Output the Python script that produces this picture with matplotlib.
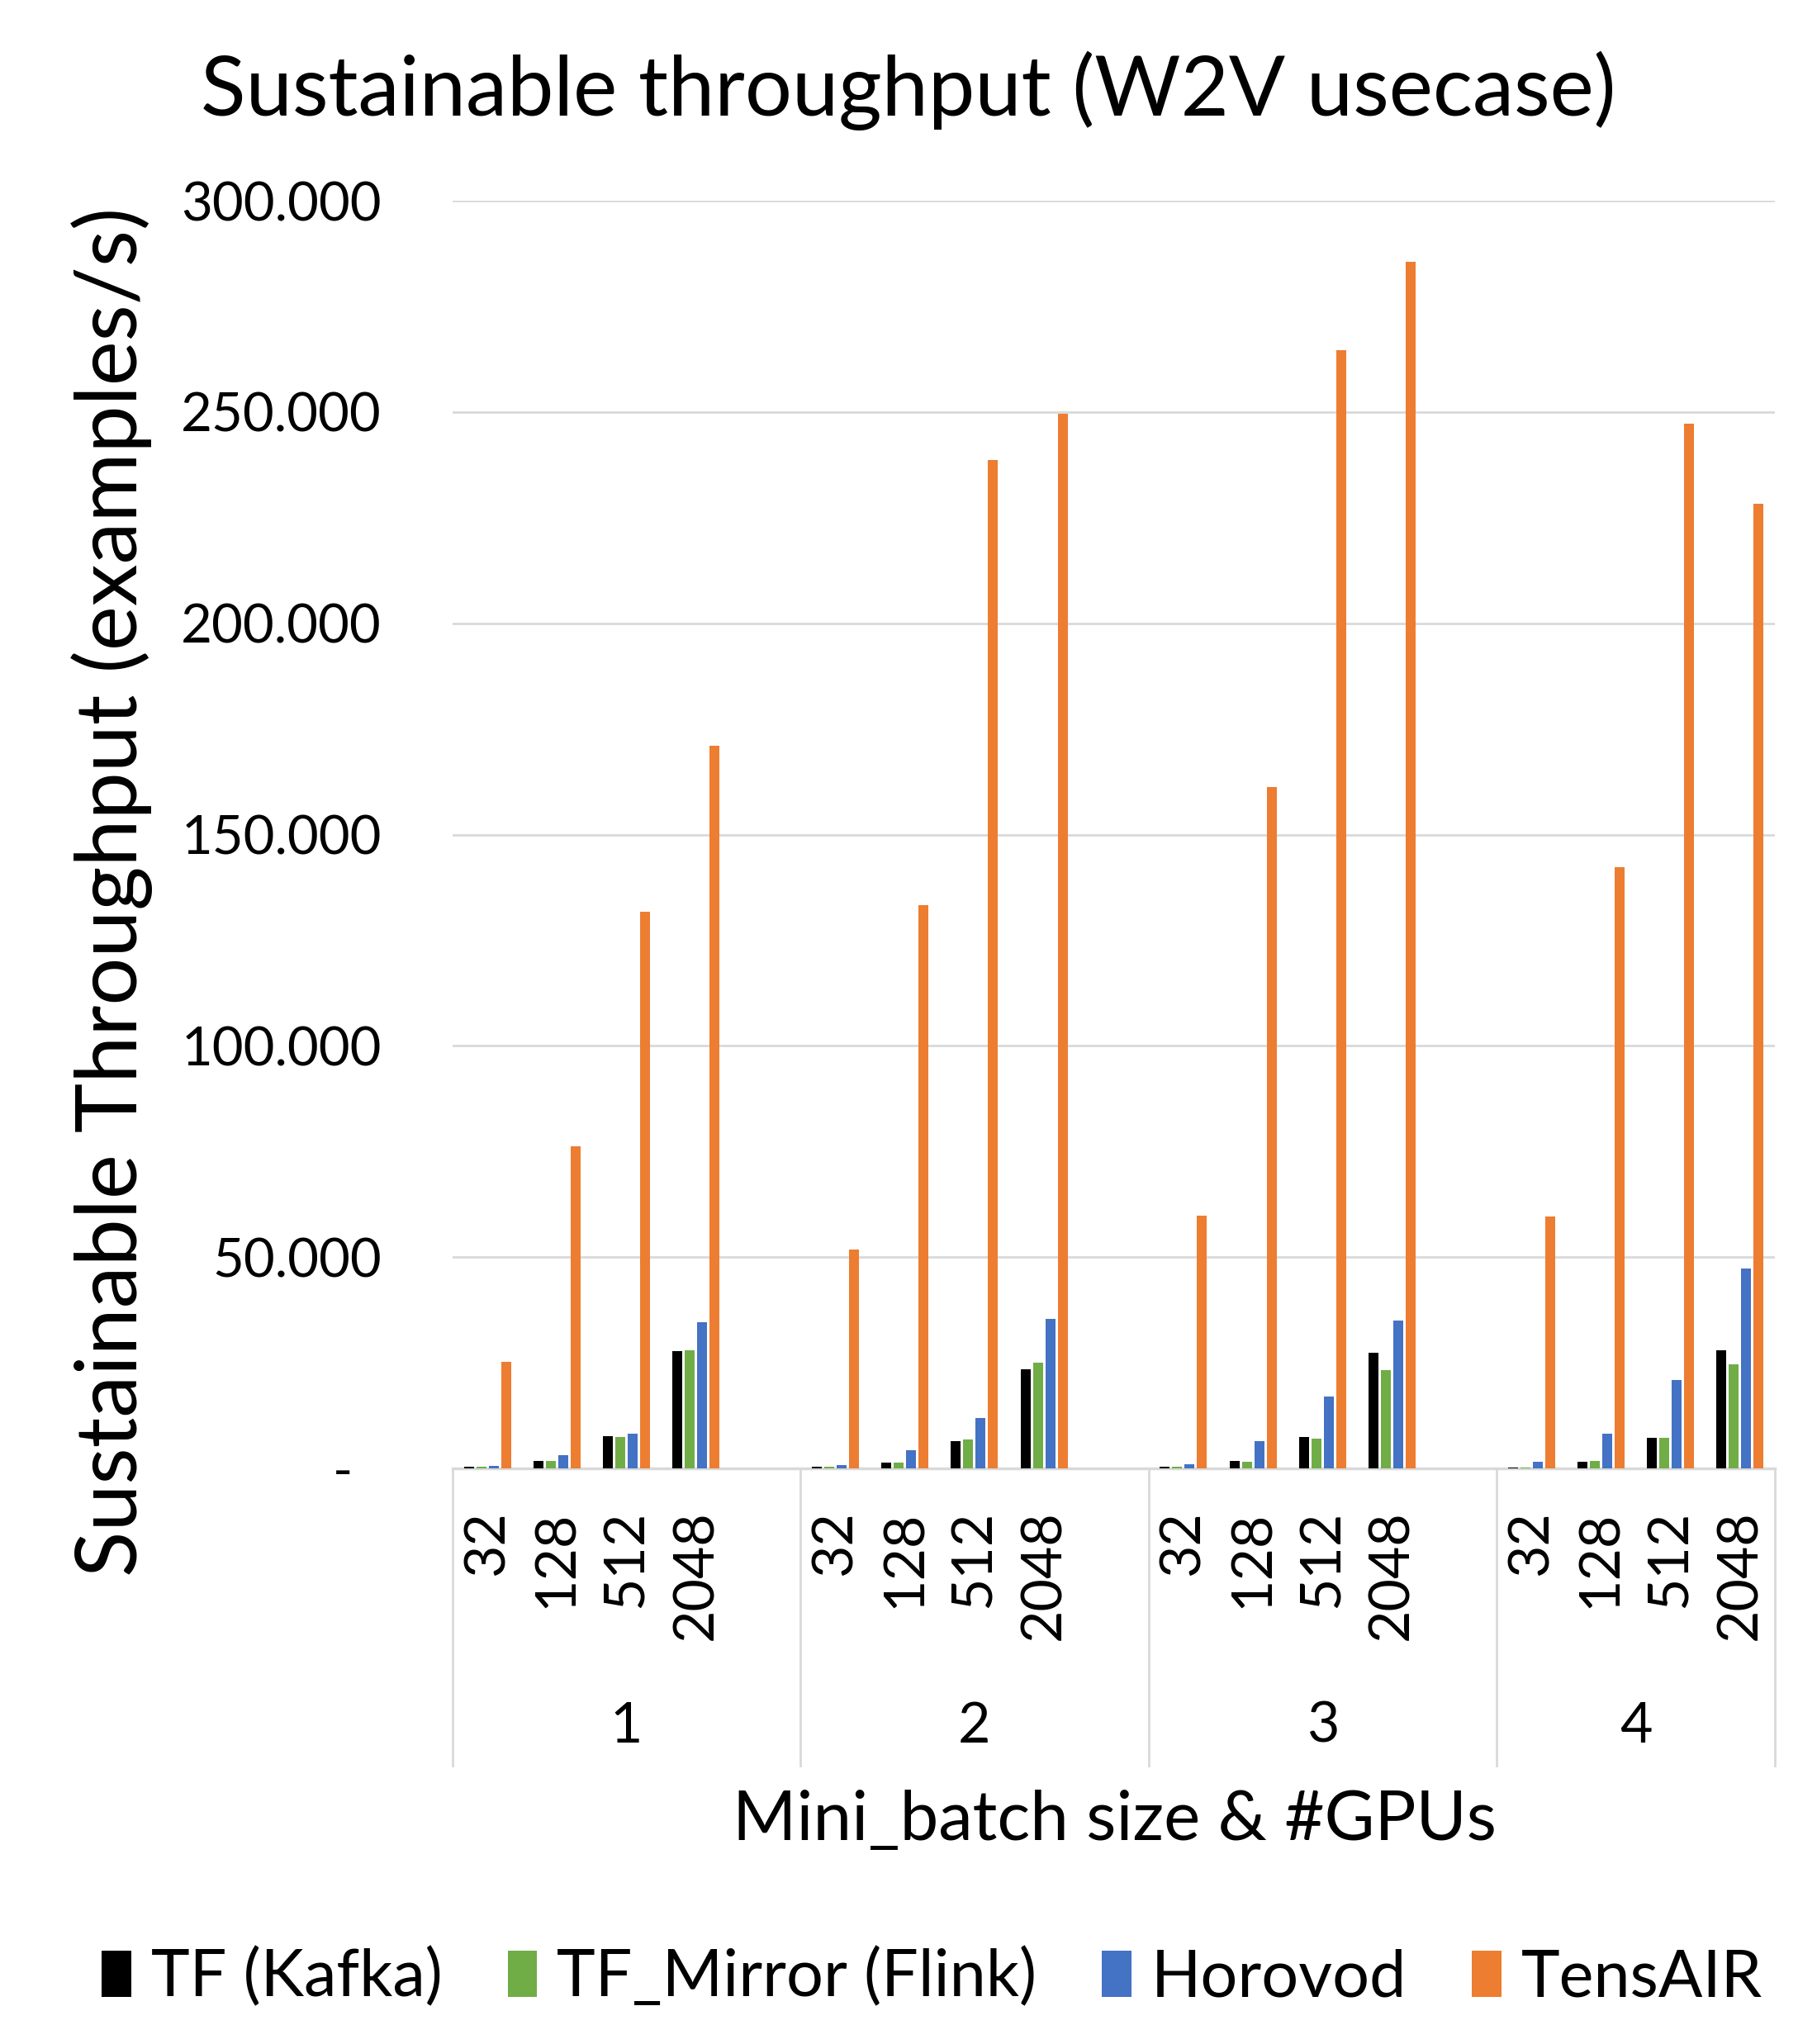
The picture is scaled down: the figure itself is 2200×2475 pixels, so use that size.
import matplotlib
matplotlib.use("Agg")
import matplotlib.pyplot as plt
from matplotlib.transforms import ScaledTranslation

plt.rcParams['font.family'] = ['Lato', 'DejaVu Sans']

# ---- data ----
gpus = ["1", "2", "3", "4"]
batch_sizes = ["32", "128", "512", "2048"]
series_names = ["TF (Kafka)", "TF_Mirror (Flink)", "Horovod", "TensAIR"]
series_colors = ["#000000", "#70AD47", "#4472C4", "#ED7D31"]

tf_kafka = [300, 1800, 7600, 27700,
            300, 1400, 6500, 23400,
            300, 1800, 7400, 27300,
            200, 1500, 7200, 27900]
tf_mirror = [300, 1800, 7400, 27900,
             300, 1400, 6900, 25000,
             300, 1600, 7000, 23200,
             200, 1700, 7200, 24600]
horovod = [500, 3100, 8200, 34600,
           700, 4300, 11900, 35400,
           1000, 6500, 17000, 35000,
           1500, 8200, 20900, 47300]
tensair = [25300, 76200, 131700, 171100,
           51800, 133200, 238700, 249500,
           59800, 161300, 264600, 285500,
           59700, 142200, 247300, 228200]

ytick_values = [0, 50000, 100000, 150000, 200000, 250000, 300000]
ytick_labels = ["-", "50.000", "100.000", "150.000", "200.000", "250.000", "300.000"]

title = "Sustainable throughput (W2V usecase)"
ylabel = "Sustainable Throughput (examples/s)"
xlabel = "Mini_batch size & #GPUs"

# ---- layout ----
W, H = 2200, 2475
fig = plt.figure(figsize=(W / 100, H / 100), dpi=100)
ax = fig.add_axes([548 / W, 1 - 1778 / H, (2149 - 548) / W, (1778 - 243) / H])

# slots: groups 1-3 have 5 slots (last one empty), group 4 has 4 slots
slots_per_group = [5, 5, 5, 4]
group_starts = []
s = 0
for n in slots_per_group:
    group_starts.append(s)
    s += n
n_slots = s

positions = []
for g in range(len(gpus)):
    for c in range(len(batch_sizes)):
        positions.append(group_starts[g] + c)

all_series = [tf_kafka, tf_mirror, horovod, tensair]
pitch = 0.178
bw = 0.142
for i, (vals, name, col) in enumerate(zip(all_series, series_names, series_colors)):
    xs = [p + (i - 1.5) * pitch for p in positions]
    ax.bar(xs, vals, width=bw, color=col, label=name, zorder=3)

ax.set_xlim(-0.5, n_slots - 0.5)
ax.set_ylim(0, 300000)
ax.set_yticks(ytick_values)
ax.set_yticklabels(ytick_labels, fontsize=47)
ax.tick_params(axis='y', length=0, pad=62)
ax.tick_params(axis='x', length=0)
ax.set_xticks([])
ax.grid(axis='y', color='#D9D9D9', linewidth=2, zorder=0)
for sp in ["left", "right", "top"]:
    ax.spines[sp].set_visible(False)
ax.spines["bottom"].set_color("#D9D9D9")
ax.spines["bottom"].set_linewidth(2.5)

# shift the "-" zero label left like Excel's accounting format
zero_lab = ax.get_yticklabels()[0]
zero_lab.set_transform(zero_lab.get_transform() + ScaledTranslation(-0.35, 0, fig.dpi_scale_trans))

trans = ax.get_xaxis_transform()
# sub-category labels
for p, lab in zip(positions, batch_sizes * len(gpus)):
    ax.text(p, -0.033, lab, rotation=90, ha='center', va='top', fontsize=49,
            transform=trans)
# group separators and labels
sep_bottom = -(2138 - 1778) / (1778 - 243)
bounds = [gs - 0.5 for gs in group_starts] + [n_slots - 0.5]
for b in bounds:
    ax.plot([b, b], [0, sep_bottom], color='#D9D9D9', linewidth=2,
            transform=trans, clip_on=False)
for g, lab in enumerate(gpus):
    cx = (bounds[g] + bounds[g + 1]) / 2
    ax.text(cx, -(2091 - 1778) / (1778 - 243), lab, ha='center', va='center',
            fontsize=49, transform=trans)

fig.text(0.5, 1 - 110 / H, title, ha='center', va='center', fontsize=72.5)
fig.text(136 / W, 1 - 1080 / H, ylabel, rotation=90, ha='center', va='center',
         fontsize=73.5)
fig.text(1349 / W, 1 - 2205 / H, xlabel, ha='center', va='center', fontsize=60)

leg = fig.legend(loc='center', bbox_to_anchor=(0.513, 1 - 2395 / H), ncol=4,
                 frameon=False, fontsize=57, handlelength=0.45, handleheight=0.7,
                 handletextpad=0.3, columnspacing=1.0)

fig.savefig("out.png", dpi=100)
